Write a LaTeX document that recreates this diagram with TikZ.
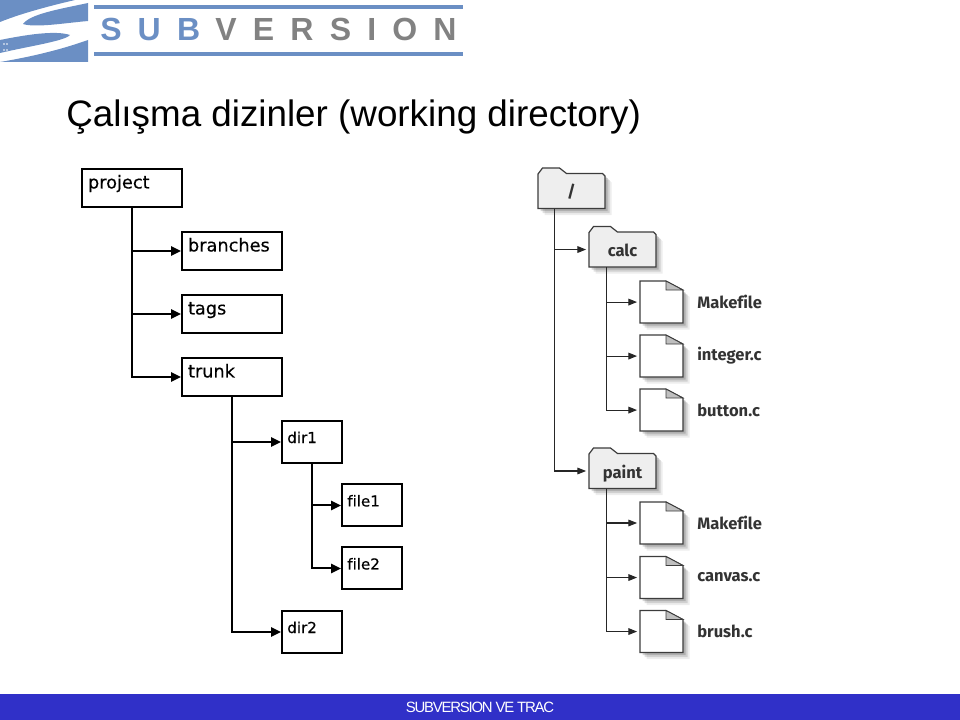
\documentclass[tikz,border=0pt]{standalone}
\usepackage{fontspec}
\usepackage{xcolor}
\usepackage{tikz}
\usetikzlibrary{arrows.meta,positioning,calc,shadows,backgrounds}
\setmainfont{Liberation Sans}
\newfontfamily\boxfont{DejaVu Sans}[Ligatures=NoCommon,FakeBold=0.4]
\newfontfamily\pagefont{Fira Sans}[Ligatures=NoCommon]
\newfontfamily\logofont{Liberation Sans}[LetterSpace=50.5]
\newfontfamily\footfont{Liberation Sans}[LetterSpace=-8.2]
\definecolor{logoblue}{RGB}{107,143,196}
\definecolor{logogray}{RGB}{130,130,130}
\definecolor{footblue}{RGB}{48,48,200}
\definecolor{folderfill}{RGB}{238,238,238}
\definecolor{pageline}{RGB}{60,60,60}

\begin{document}
\begin{tikzpicture}[x=0.75pt, y=-0.75pt, on grid, >={Triangle[length=7.5pt,width=7pt]}]
  % Styles
  \tikzset{
    bigbox/.style={rectangle, draw, line width=1.5pt, font=\boxfont\fontsize{13.3}{15}\selectfont, inner sep=4.5pt, text width=66pt, align=left, text height=10.1pt, text depth=9.4pt},
    smallbox/.style={rectangle, draw, line width=1.5pt, font=\boxfont\fontsize{11.3}{13}\selectfont, inner xsep=4pt, inner ysep=4.5pt, text width=37pt, align=left, text height=12pt, text depth=10.5pt},
    treeline/.style={line width=1.5pt},
    thinline/.style={line width=0.8pt, draw=black!85, shorten >=2pt, -{Triangle[length=6.5pt,width=5pt]}},
    softshadow/.style={drop shadow={shadow xshift=2pt, shadow yshift=-2pt, opacity=0.16, fill=black}, drop shadow={shadow xshift=3.5pt, shadow yshift=-3.5pt, opacity=0.12, fill=black}, drop shadow={shadow xshift=5pt, shadow yshift=-5pt, opacity=0.07, fill=black}},
    foldernode/.style={minimum width=50.25pt, minimum height=26.25pt, inner sep=0pt, text height=10.5pt, text depth=0pt, font=\pagefont\bfseries\fontsize{12.4}{14}\selectfont, text=black!80},
    pagenode/.style={minimum width=32.25pt, minimum height=31.5pt, inner sep=0pt},
    pagetext/.style={font=\pagefont\bfseries\fontsize{12.4}{14}\selectfont, text=black!80, inner sep=0pt, xshift=10.3pt}
  }
  \useasboundingbox (0,0) rectangle (960,720);

  % Header
  \fill[logoblue] (0,0) -- (75,0) .. controls (45,7) and (20,14) .. (0,22) -- cycle;
  \fill[logoblue] (23,24) .. controls (30,14) and (60,9) .. (88,3) -- (88,21) .. controls (65,23) and (35,28) .. (23,24) -- cycle;
  \fill[logoblue] (0,40) .. controls (25,35) and (55,30) .. (70,35) .. controls (65,41) and (30,46) .. (0,53) -- cycle;
  \fill[logoblue] (0,62) .. controls (30,57) and (60,50) .. (88,40) -- (88,62) -- cycle;
  \foreach \dotx in {4,7}
    \foreach \doty in {44,50}
      \fill[white] (\dotx,\doty) circle (0.6pt);
  \fill[logoblue] (94,5.5) rectangle (463,9);
  \fill[logoblue] (94,52.5) rectangle (463,56.5);
  \node[anchor=base west, inner sep=0pt, font=\logofont\bfseries\fontsize{24}{26}\selectfont] (logo) at (100,41) {\textcolor{logoblue}{SUB}\hspace{11.5pt}\textcolor{logogray}{VERSION}};
  \node[anchor=base west, inner sep=0pt, font=\fontsize{27.6}{30}\selectfont] (title) at (66,126.5) {Çalışma dizinler (working directory)};

  % Nodes (repository layout)
  \node[bigbox] (project) at (132,188) {project};
  \node[bigbox, below right=47.25pt and 75pt of project] (branches) {branches};
  \node[bigbox, below=47.25pt of branches] (tags) {tags};
  \node[bigbox, below=47.25pt of tags] (trunk) {trunk};
  \node[smallbox, below right=48.75pt and 60pt of trunk] (dir1) {dir1};
  \node[smallbox, below right=47.6pt and 45pt of dir1] (file1) {file1};
  \node[smallbox, below=47.25pt of file1] (file2) {file2};
  \node[smallbox, below=142.5pt of dir1] (dir2) {dir2};

  % Nodes (folders and files)
  \node[foldernode] (root) at (571.5,191) {/};
  \node[foldernode, below right=43.9pt and 38.25pt of root] (calc) {calc};
  \node[foldernode, below=166.1pt of calc] (paint) {paint};
  \node[pagenode, below right=39.4pt and 29.25pt of calc, label={[pagetext]right:Makefile}] (calcmake) {};
  \node[pagenode, below=40.5pt of calcmake, label={[pagetext]right:integer.c}] (integer) {};
  \node[pagenode, below=40.5pt of integer, label={[pagetext]right:button.c}] (button) {};
  \node[pagenode, below right=39pt and 29.25pt of paint, label={[pagetext]right:Makefile}] (paintmake) {};
  \node[pagenode, below=40.9pt of paintmake, label={[pagetext]right:canvas.c}] (canvas) {};
  \node[pagenode, below=40.5pt of canvas, label={[pagetext]right:brush.c}] (brush) {};

  % Folder and page outlines
  \begin{scope}[on background layer]
    \foreach \fname in {root,calc,paint}
      \draw[line width=0.9pt, draw=pageline, fill=folderfill, softshadow, shift={(\fname.center)}]
        (-33.5,17.5) -- (-33.5,-17) -- (-29,-23) -- (-12,-23) -- (-5,-17.5) -- (31,-17.5) -- (33.5,-15) -- (33.5,17.5) -- cycle;
    \foreach \pname in {calcmake,integer,button,paintmake,canvas,brush} {
      \draw[line width=0.9pt, draw=pageline, fill=white, softshadow, shift={(\pname.center)}]
        (-21.5,-21) -- (4.5,-21) -- (21.5,-12) -- (21.5,21) -- (-21.5,21) -- cycle;
      \draw[line width=0.6pt, draw=pageline, fill=black!25, shift={(\pname.center)}]
        (4.5,-21) -- (4.5,-12) -- (21.5,-12) -- cycle;
    }
  \end{scope}

  % Paths / Edges
  \draw[treeline, ->] (project) |- (branches);
  \draw[treeline, ->] (project) |- (tags);
  \draw[treeline, ->] (project) |- (trunk);
  \draw[treeline, ->] (trunk) |- (dir1);
  \draw[treeline, ->] (trunk) |- (dir2);
  \draw[treeline, ->] (dir1) |- (file1);
  \draw[treeline, ->] (dir1) |- (file2);

  \coordinate (rootstem) at ($(root.south west)!0.25!(root.south east)$);
  \coordinate (calcstem) at ($(calc.south west)!0.26!(calc.south east)$);
  \coordinate (paintstem) at ($(paint.south west)!0.26!(paint.south east)$);
  \draw[thinline] (rootstem) |- (calc);
  \draw[thinline] (rootstem) |- (paint);
  \foreach \pname in {calcmake,integer,button}
    \draw[thinline] (calcstem) |- (\pname);
  \foreach \pname in {paintmake,canvas,brush}
    \draw[thinline] (paintstem) |- (\pname);

  % Footer
  \node[fill=footblue, text=white, minimum width=720pt, minimum height=19.5pt, inner sep=0pt, font=\footfont\fontsize{11.2}{13}\selectfont] (footer) at (480,707) {SUBVERSION VE TRAC};
\end{tikzpicture}
\end{document}
